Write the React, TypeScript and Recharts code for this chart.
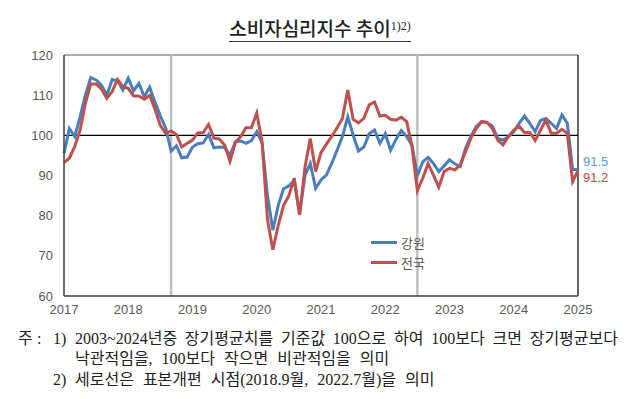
import React from "react";
import { LineChart, Line, XAxis, YAxis, ReferenceLine } from "recharts";

// monthly, Jan 2017 .. Jan 2025
const YEARS = ["2017", "2018", "2019", "2020", "2021", "2022", "2023", "2024", "2025"];

const GANGWON = [
  95.5, 101.7, 99.7, 104.6, 110.0, 114.4, 113.8, 112.5, 110.0, 113.9, 113.6, 111.3,
  114.2, 111.1, 112.9, 109.6, 112.0, 108.2, 104.8, 101.8, 96.1, 97.4, 94.4, 94.6,
  97.1, 97.9, 98.1, 100.2, 96.9, 97.1, 97.0, 95.0, 98.4, 98.6, 98.0, 98.7,
  100.9, 98.1, 85.0, 76.4, 82.5, 86.7, 87.4, 88.8, 80.3, 90.0, 93.0, 86.8,
  88.9, 90.1, 93.0, 96.3, 99.7, 104.6, 100.1, 96.1, 97.1, 100.4, 101.3, 98.0,
  100.4, 96.3, 99.0, 101.2, 99.7, 97.5, 90.0, 93.4, 94.5, 93.0, 91.0, 92.4,
  93.9, 92.9, 92.2, 96.8, 99.7, 102.2, 103.4, 103.1, 102.3, 99.3, 98.8, 99.7,
  100.9, 103.0, 104.8, 103.0, 100.9, 103.7, 104.2, 103.0, 101.7, 105.1, 103.0, 91.5,
  91.5,
];

const NATIONAL = [
  93.2, 94.3, 97.2, 101.3, 108.0, 112.8, 112.8, 111.5, 109.2, 110.9, 113.9, 112.1,
  111.7, 109.8, 109.8, 109.0, 109.9, 106.5, 102.4, 100.5, 101.1, 100.2, 97.1, 98.0,
  98.8, 100.6, 100.7, 102.7, 99.3, 99.1, 97.6, 93.5, 98.2, 99.7, 101.9, 101.9,
  105.5, 98.3, 79.1, 71.5, 77.5, 82.5, 85.0, 89.3, 80.2, 92.0, 99.2, 91.0,
  95.7, 97.8, 99.7, 101.9, 104.2, 111.3, 104.0, 103.1, 104.2, 107.6, 108.3, 104.8,
  105.0, 104.0, 103.8, 104.5, 103.4, 97.2, 86.2, 89.3, 93.0, 90.1, 87.1, 91.0,
  91.8, 91.4, 92.6, 95.9, 99.3, 101.7, 103.4, 103.3, 101.7, 98.8, 97.6, 99.7,
  101.3, 102.3, 100.7, 100.7, 98.7, 101.3, 103.8, 100.5, 100.5, 101.5, 100.5, 88.5,
  91.2,
];

// 표본개편 시점 (year, month)
const REVISIONS = [
  [2018, 9],
  [2022, 7],
];

const Y_TICKS = [60, 70, 80, 90, 100, 110, 120];

const BLUE = "#4a7ebb";
const RED = "#c0504d";
const AXIS_TEXT = "#595959";

const data = GANGWON.map((v, i) => ({ i, gangwon: v, national: NATIONAL[i] }));
const lastIndex = data.length - 1;
const monthIndex = (y: number, m: number) => (y - Number(YEARS[0])) * 12 + (m - 1);

const endLabel = (color: string, dy: number) => (props: any) => {
  if (props.index !== lastIndex) return null;
  return (
    <text
      x={props.x + 5}
      y={props.y + dy}
      fill={color}
      fontSize={13}
      fontFamily="Liberation Sans, Arial, sans-serif"
      dominantBaseline="middle"
    >
      {props.value}
    </text>
  );
};

function LegendBox() {
  const row = (color: string, label: string) => (
    <div style={{ display: "flex", alignItems: "center", height: 20 }}>
      <span style={{ display: "inline-block", width: 26, height: 3, background: color, marginRight: 4 }} />
      <span style={{ fontSize: 13, color: AXIS_TEXT, fontFamily: '"Noto Sans CJK KR", sans-serif' }}>{label}</span>
    </div>
  );
  return (
    <div style={{ position: "absolute", left: 371, top: 232 }}>
      {row(BLUE, "강원")}
      {row(RED, "전국")}
    </div>
  );
}

const noteFont = '"Liberation Serif", "Noto Sans CJK KR", serif';

export default function App() {
  return (
    <div style={{ position: "absolute", left: 0, top: 0, width: 640, height: 399, background: "#fff", overflow: "hidden" }}>
      <div
        style={{
          position: "absolute",
          top: 14,
          left: 0,
          width: 640,
          textAlign: "center",
          fontFamily: '"Noto Sans CJK KR", sans-serif',
          fontSize: 19,
          fontWeight: 500,
          color: "#222",
        }}
      >
        <span style={{ display: "inline-block", borderBottom: "1.5px solid #333", lineHeight: "24px", paddingBottom: 1 }}>
          소비자심리지수 추이
          <sup style={{ fontSize: 12, fontFamily: noteFont, verticalAlign: "6px" }}>1)2)</sup>
        </span>
      </div>

      <div style={{ position: "absolute", left: 0, top: 0 }}>
        <LineChart width={640} height={330} data={data} margin={{ top: 55, right: 62, left: 24, bottom: 10 }}>
          <XAxis
            dataKey="i"
            type="number"
            domain={[0, lastIndex]}
            ticks={YEARS.map((_, k) => k * 12)}
            tickFormatter={(v: number) => YEARS[v / 12]}
            axisLine={{ stroke: "#404040", strokeWidth: 1.5 }}
            tickLine={false}
            tickSize={0}
            tickMargin={9}
            height={24}
            tick={{ fontSize: 13, fill: AXIS_TEXT, fontFamily: "Liberation Sans, Arial, sans-serif" }}
          />
          <YAxis
            domain={[60, 120]}
            ticks={Y_TICKS}
            allowDataOverflow
            axisLine={{ stroke: "#404040", strokeWidth: 1.5 }}
            tickLine={false}
            tickSize={0}
            tickMargin={11}
            width={40}
            tick={{ fontSize: 13, fill: AXIS_TEXT, fontFamily: "Liberation Sans, Arial, sans-serif" }}
          />
          <ReferenceLine y={120} stroke="#8c8c8c" strokeWidth={1.5} />
          <ReferenceLine x={lastIndex} stroke="#333" strokeWidth={1.5} />
          {REVISIONS.map(([y, m]) => (
            <ReferenceLine key={`${y}-${m}`} x={monthIndex(y, m)} stroke="#c0c0c0" strokeWidth={2.5} />
          ))}
          <ReferenceLine y={100} stroke="#000" strokeWidth={1.3} />
          <Line
            dataKey="gangwon"
            name="강원"
            stroke={BLUE}
            strokeWidth={3}
            dot={false}
            isAnimationActive={false}
            label={endLabel("#5b9bd5", -7)}
          />
          <Line
            dataKey="national"
            name="전국"
            stroke={RED}
            strokeWidth={3}
            dot={false}
            isAnimationActive={false}
            label={endLabel("#e03a3e", 8)}
          />
        </LineChart>
      </div>

      <LegendBox />

      <div style={{ position: "absolute", left: 0, top: 0, fontFamily: noteFont, fontSize: 16, color: "#222", lineHeight: "20px" }}>
        <span style={{ position: "absolute", left: 18, top: 329 }}>주</span>
        <span style={{ position: "absolute", left: 37, top: 329 }}>:</span>
        <span style={{ position: "absolute", left: 53, top: 329 }}>1)</span>
        <div style={{ position: "absolute", left: 75, top: 329, width: 543, textAlign: "justify", textAlignLast: "justify", whiteSpace: "nowrap" }}>
          2003~2024년중 장기평균치를 기준값 100으로 하여 100보다 크면 장기평균보다
        </div>
        <div style={{ position: "absolute", left: 75, top: 349, whiteSpace: "nowrap", wordSpacing: 5 }}>
          낙관적임을, 100보다 작으면 비관적임을 의미
        </div>
        <span style={{ position: "absolute", left: 53, top: 370 }}>2)</span>
        <div style={{ position: "absolute", left: 75, top: 370, whiteSpace: "nowrap", wordSpacing: 5 }}>
          세로선은 표본개편 시점(2018.9월, 2022.7월)을 의미
        </div>
      </div>
    </div>
  );
}
